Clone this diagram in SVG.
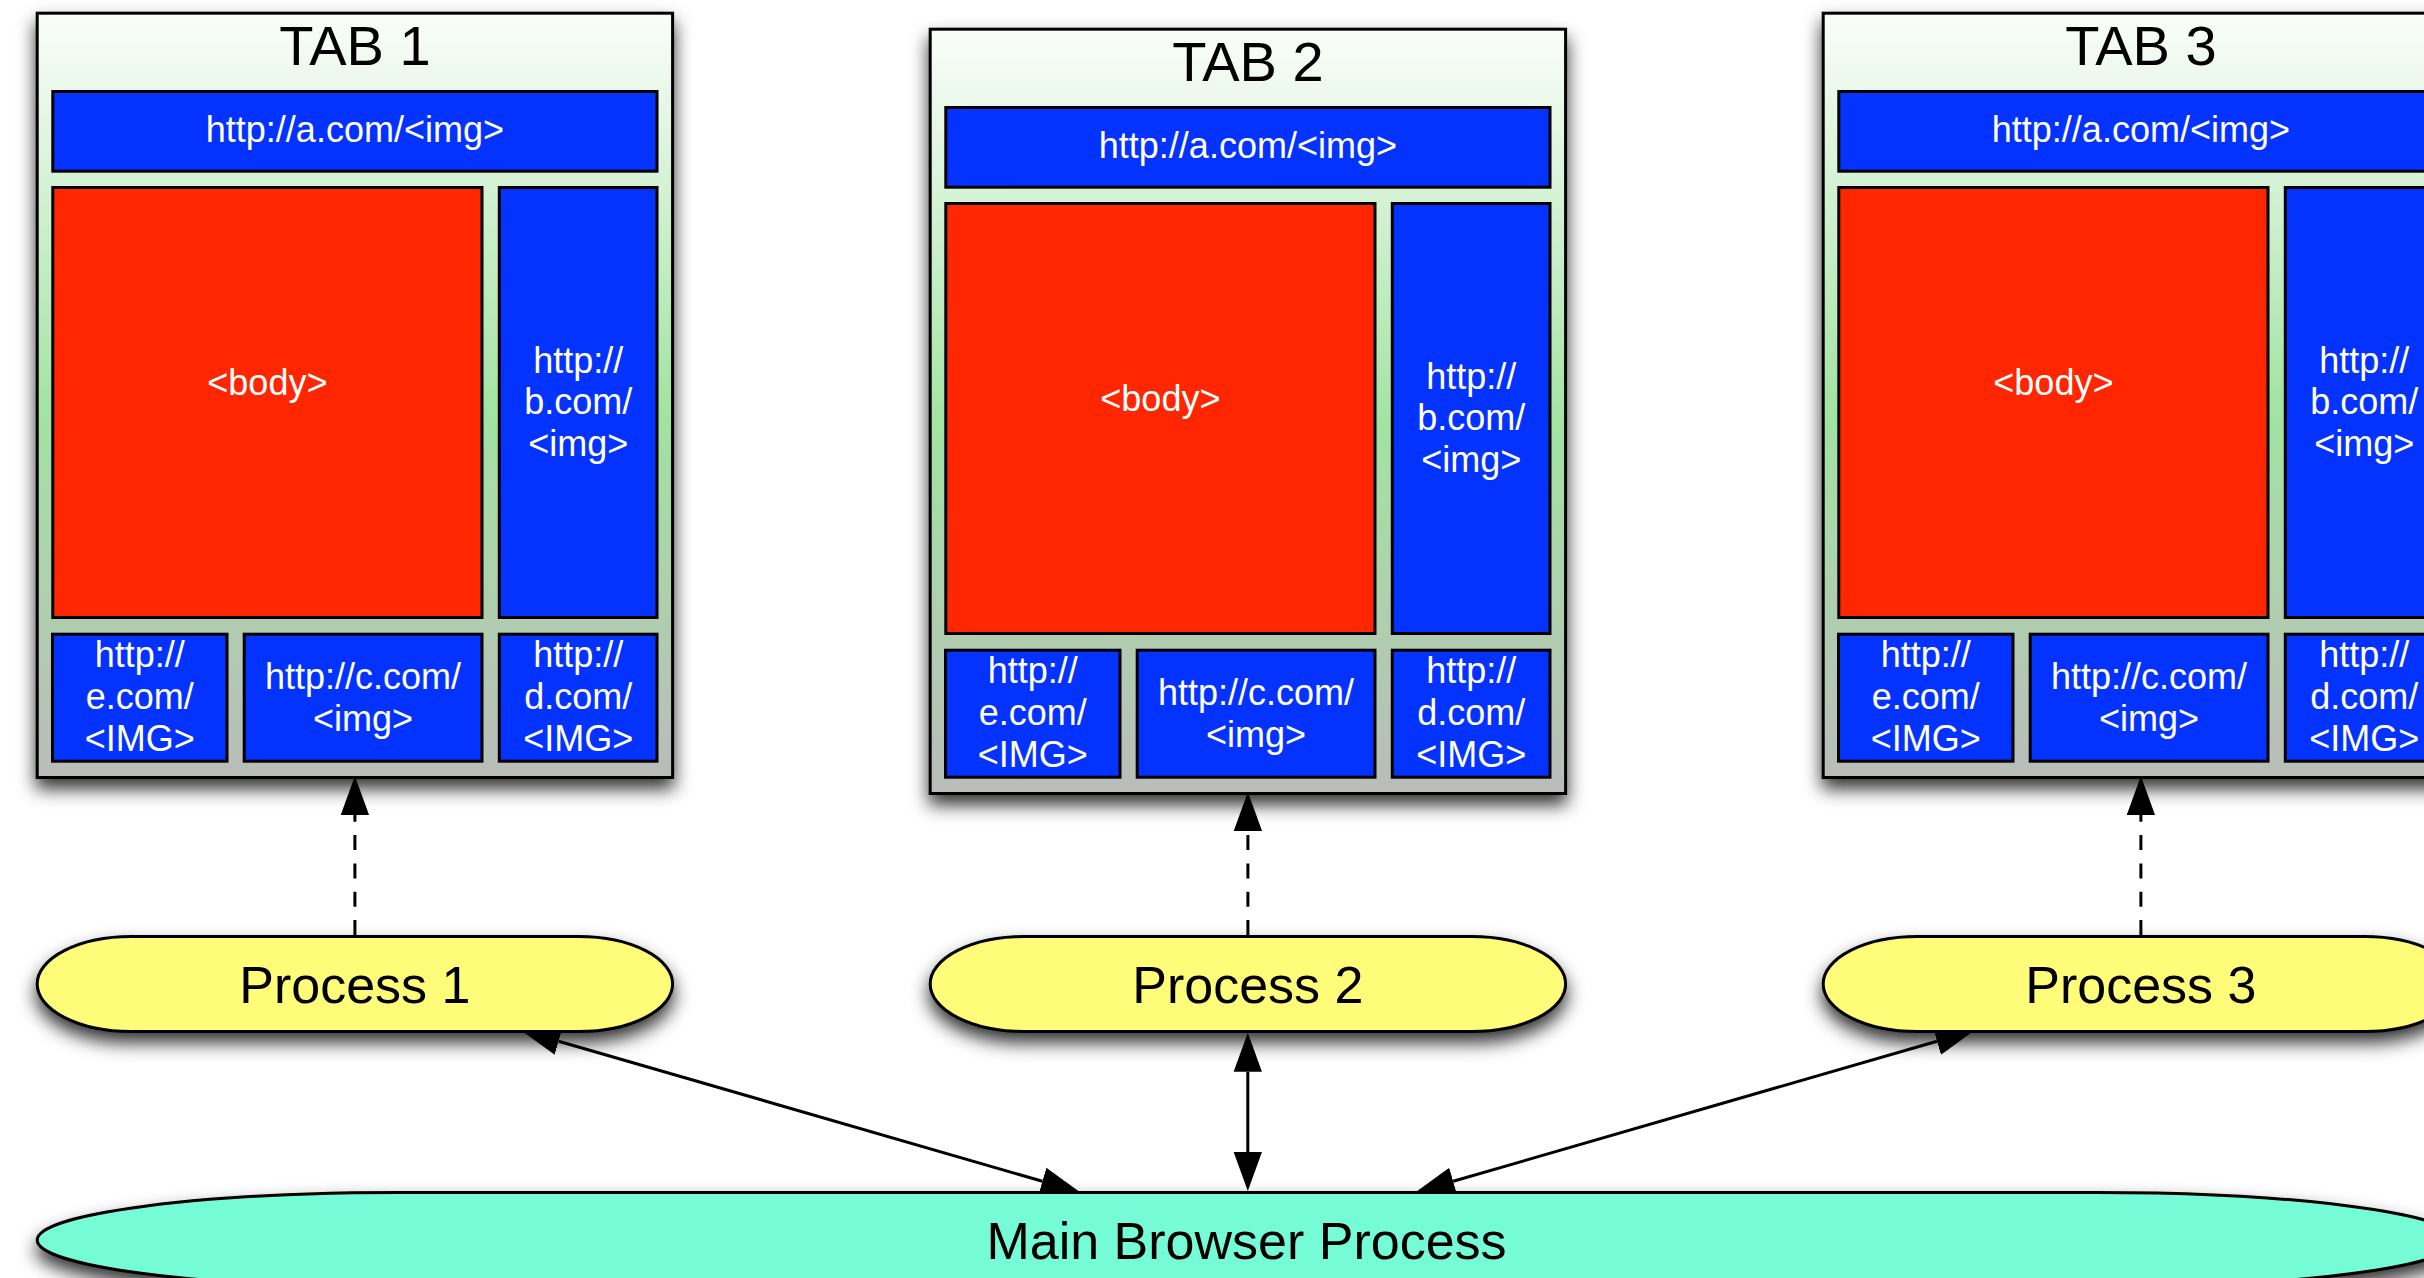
<svg xmlns="http://www.w3.org/2000/svg" width="2424" height="1278" viewBox="0 0 2424 1278">
<style>
.tab{fill:url(#tabGrad);stroke:#000;stroke-width:3}
.blue{fill:#0433ff;stroke:#000;stroke-width:3}
.red{fill:#ff2600;stroke:#000;stroke-width:3}
.proc{fill:#fffc79;stroke:#000;stroke-width:3}
.main{fill:#75fcd6;stroke:#000;stroke-width:3}
.wt{fill:#fff;font-family:"Liberation Sans",Arial,Helvetica,sans-serif;font-size:36px;text-anchor:middle}
.title{fill:#000;font-family:"Liberation Sans",Arial,Helvetica,sans-serif;font-size:56px;text-anchor:middle}
.pt{fill:#000;font-family:"Liberation Sans",Arial,Helvetica,sans-serif;font-size:52px;text-anchor:middle}
.conn{stroke:#000;stroke-width:3;fill:none}
.dash{stroke-dasharray:15 13.3}
</style>
<defs>
<linearGradient id="tabGrad" x1="0" y1="0" x2="0" y2="1">
<stop offset="0" stop-color="#fbfdfb"/>
<stop offset="0.52" stop-color="#a2e3a2"/>
<stop offset="1" stop-color="#babcba"/>
</linearGradient>
<filter id="shadow" x="-10%" y="-20%" width="120%" height="170%">
<feDropShadow dx="0" dy="10" stdDeviation="9" flood-color="#000" flood-opacity="0.8"/>
</filter>
<marker id="arr" markerUnits="userSpaceOnUse" markerWidth="40" markerHeight="30" viewBox="0 -13 36 26" refX="0" refY="0" orient="auto-start-reverse">
<path d="M0,-12.75 L35,0 L0,12.75 Z" fill="#000"/>
</marker>
<g id="tabContent">
<rect class="blue" x="52.8" y="91.5" width="604.2" height="79.7"/>
<text class="wt" x="354.9" y="141.7">http://a.com/&lt;img&gt;</text>
<rect class="red" x="52.8" y="187.5" width="429.2" height="430"/>
<text class="wt" x="267.4" y="395">&lt;body&gt;</text>
<rect class="blue" x="499.3" y="187.5" width="157.7" height="430"/>
<text class="wt" x="578.2" y="372.5">http://</text>
<text class="wt" x="578.2" y="414">b.com/</text>
<text class="wt" x="578.2" y="455.5">&lt;img&gt;</text>
<rect class="blue" x="52.5" y="634.2" width="174.5" height="127"/>
<text class="wt" x="139.7" y="667">http://</text>
<text class="wt" x="139.7" y="709">e.com/</text>
<text class="wt" x="139.7" y="751">&lt;IMG&gt;</text>
<rect class="blue" x="244.2" y="634.2" width="237.8" height="127"/>
<text class="wt" x="363.1" y="688.5">http://c.com/</text>
<text class="wt" x="363.1" y="730.5">&lt;img&gt;</text>
<rect class="blue" x="499.3" y="634.2" width="157.7" height="127"/>
<text class="wt" x="578.2" y="667">http://</text>
<text class="wt" x="578.2" y="709">d.com/</text>
<text class="wt" x="578.2" y="751">&lt;IMG&gt;</text>
</g>
</defs>
<g id="connectors">
<path class="conn dash" d="M354.9,935 L354.9,815" marker-end="url(#arr)"/>
<path class="conn dash" d="M1247.9,935 L1247.9,831" marker-end="url(#arr)"/>
<path class="conn dash" d="M2140.9,935 L2140.9,815" marker-end="url(#arr)"/>
<path class="conn" d="M558.6,1041.2 L1042.4,1181.3" marker-start="url(#arr)" marker-end="url(#arr)"/>
<path class="conn" d="M1247.8,1071.7 L1247.8,1152" marker-start="url(#arr)" marker-end="url(#arr)"/>
<path class="conn" d="M1937,1041.2 L1453.2,1181.3" marker-start="url(#arr)" marker-end="url(#arr)"/>
</g>
<g id="tab1">
<rect class="tab" x="37.2" y="13.2" width="635.4" height="764.3" filter="url(#shadow)"/>
<text class="title" x="354.9" y="65">TAB 1</text>
<use href="#tabContent"/>
</g>
<g id="tab2" transform="translate(893,16)">
<rect class="tab" x="37.2" y="13.2" width="635.4" height="764.3" filter="url(#shadow)"/>
<text class="title" x="354.9" y="65">TAB 2</text>
<use href="#tabContent"/>
</g>
<g id="tab3" transform="translate(1786,0)">
<rect class="tab" x="37.2" y="13.2" width="635.4" height="764.3" filter="url(#shadow)"/>
<text class="title" x="354.9" y="65">TAB 3</text>
<use href="#tabContent"/>
</g>
<g id="process1">
<rect class="proc" x="37.2" y="936.5" width="635.4" height="95" rx="94" ry="47.5" filter="url(#shadow)"/>
<text class="pt" x="354.9" y="1003">Process 1</text>
</g>
<g id="process2">
<rect class="proc" x="930.2" y="936.5" width="635.4" height="95" rx="94" ry="47.5" filter="url(#shadow)"/>
<text class="pt" x="1247.9" y="1003">Process 2</text>
</g>
<g id="process3">
<rect class="proc" x="1823.2" y="936.5" width="635.4" height="95" rx="94" ry="47.5" filter="url(#shadow)"/>
<text class="pt" x="2140.9" y="1003">Process 3</text>
</g>
<g id="main">
<rect class="main" x="37.2" y="1192.5" width="2421" height="95" rx="362" ry="47.5" filter="url(#shadow)"/>
<text class="pt" x="1246.5" y="1258.5">Main Browser Process</text>
</g>
</svg>
